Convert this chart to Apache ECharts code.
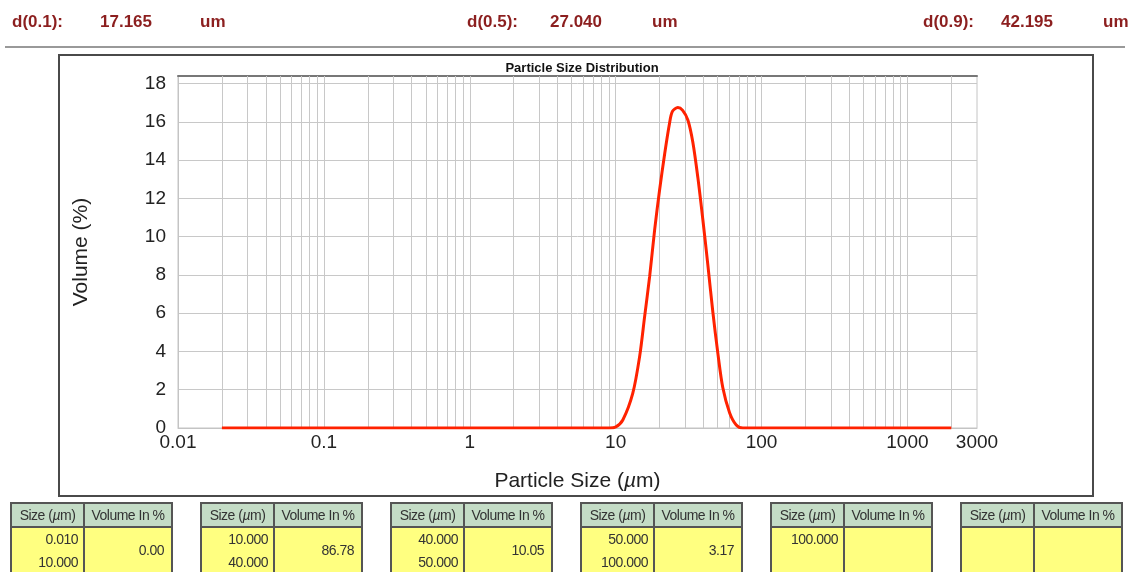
<!DOCTYPE html>
<html>
<head>
<meta charset="utf-8">
<script src="https://cdn.jsdelivr.net/npm/echarts@6/dist/echarts.min.js"></script>
<style>
  html, body { margin: 0; padding: 0; background: #fff; width: 1129px; height: 572px; overflow: hidden; font-family: "Liberation Sans", Arial, sans-serif; }
  #chart { position: absolute; left: 0; top: 0; width: 1129px; height: 572px; }
  .hd { position: absolute; top: 12px; font-size: 17px; font-weight: bold; color: #8c1f1f; white-space: nowrap; line-height: 20px; }
  #sep { position: absolute; left: 5px; top: 46px; width: 1120px; height: 0; border-top: 2px solid #999; }
  #box { position: absolute; left: 58px; top: 54px; width: 1032px; height: 439px; border: 2px solid #4a4a4a; }
  .tbl { position: absolute; top: 502px; border-collapse: collapse; font-size: 14px; color: #333; letter-spacing: -0.5px; }
  .tbl td { border: 2px solid #555; padding: 0; }
  .tbl .h { background: #c4dcc6; height: 22px; text-align: center; vertical-align: middle; }
  .tbl .b { background: #ffff80; height: 50px; vertical-align: top; }
  .sz { text-align: right; padding-right: 5px !important; line-height: 23px; padding-top: 0px !important; }
  .vol { text-align: right; padding-right: 7px !important; vertical-align: top !important; padding-top: 14px !important; }
</style>
</head>
<body>
<div id="chart"></div>
<div id="hdr"></div>
<div id="sep"></div>
<div id="box"></div>
<div id="tables"></div>
<script>
// ---- data ----
const dLabels = ['d(0.1):', 'd(0.5):', 'd(0.9):'];
const dValues = ['17.165', '27.040', '42.195'];
const dUnit = 'um';

const sizes   = [0.02, 9.1, 10.0, 11.2, 13.1, 14.6, 15.8, 17.1, 18.5, 20.0, 21.7, 23.4, 24.5, 26.7, 28.8, 31.3, 33.8, 36.6, 39.6, 42.9, 46.4, 50.2, 54.3, 60.4, 67.1, 74.5, 2000];
const volumes = [0,    0,   0.05, 0.42, 1.81, 3.73, 5.82, 7.91, 10.34, 12.43, 14.35, 15.92, 16.55, 16.75, 16.6, 16.09, 14.95, 13.1, 10.9, 8.5, 6.05, 3.9, 2.1, 0.8, 0.16, 0,   0];

const xTickLabels = ['0.01', '0.1', '1', '10', '100', '1000', '3000'];
const gridValues = [];
[0.01, 0.1, 1, 10, 100, 1000].forEach(function (d) {
  for (let k = 1; k <= 9; k++) { const v = +(d * k).toPrecision(3); if (v > 0.01 && v < 3000) gridValues.push(v); }
});

const tableRanges = [['0.010', '10.000'], ['10.000', '40.000'], ['40.000', '50.000'], ['50.000', '100.000'], ['100.000', ''], ['', '']];
const tableVolumes = ['0.00', '86.78', '10.05', '3.17', '', ''];

// ---- header ----
const hdrPos = [[12, 100, 200], [467, 550, 652], [923, 1001, 1103]];
let hh = '';
for (let i = 0; i < 3; i++) {
  hh += '<div class="hd" style="left:' + hdrPos[i][0] + 'px">' + dLabels[i] + '</div>';
  hh += '<div class="hd" style="left:' + hdrPos[i][1] + 'px">' + dValues[i] + '</div>';
  hh += '<div class="hd" style="left:' + hdrPos[i][2] + 'px">' + dUnit + '</div>';
}
document.getElementById('hdr').innerHTML = hh;

// ---- tables ----
const tblLeft = [10, 200, 390, 580, 770, 960];
let th = '';
for (let i = 0; i < 6; i++) {
  th += '<table class="tbl" style="left:' + tblLeft[i] + 'px">' +
    '<tr><td class="h" style="width:71px">Size (<i>µ</i>m)</td><td class="h" style="width:86px">Volume In %</td></tr>' +
    '<tr><td class="b sz">' + tableRanges[i][0] + '<br>' + tableRanges[i][1] + '</td><td class="b vol">' + tableVolumes[i] + '</td></tr>' +
    '</table>';
}
document.getElementById('tables').innerHTML = th;

// ---- chart ----
const chart = echarts.init(document.getElementById('chart'), null, { renderer: 'canvas' });
const font = '"Liberation Sans", Arial, sans-serif';
chart.setOption({
  animation: false,
  title: {
    text: 'Particle Size Distribution', left: 577, top: 57, textAlign: 'center',
    textStyle: { fontSize: 13, fontWeight: 'bold', color: '#111', fontFamily: font }
  },
  grid: { left: 178, top: 76, width: 799, height: 352, show: true, borderColor: '#c4c4c4', borderWidth: 1 },
  xAxis: [{
    type: 'log', logBase: 10, min: 0.01, max: 3000,
    name: 'Particle Size ({i|µ}m)', nameLocation: 'middle', nameGap: 43,
    nameTextStyle: { fontSize: 21, color: '#222', fontFamily: font,
      rich: { i: { fontSize: 21, fontStyle: 'italic', color: '#222', fontFamily: font } } },
    axisLine: { show: true, lineStyle: { color: '#c4c4c4', width: 1 } },
    axisTick: { show: false },
    splitLine: { show: false },
    axisLabel: {
      margin: 5, fontSize: 19, color: '#222', fontFamily: font,
      formatter: function (v) {
        const lv = Math.log10(v);
        for (const t of xTickLabels) { if (Math.abs(Math.log10(+t) - lv) < 1e-6) return t; }
        return '';
      }
    }
  }, {
    type: 'log', logBase: 10, min: 0.01, max: 3000, position: 'top',
    axisLine: { show: true, lineStyle: { color: '#777', width: 2 } },
    axisTick: { show: false }, axisLabel: { show: false }, splitLine: { show: false }
  }],
  yAxis: {
    type: 'value', min: 0, max: 18.4, interval: 2,
    name: 'Volume (%)', nameLocation: 'middle', nameGap: 86,
    nameTextStyle: { fontSize: 21, color: '#222', fontFamily: font },
    axisLine: { show: true, lineStyle: { color: '#c4c4c4', width: 1 } },
    axisTick: { show: false },
    splitLine: { show: true, lineStyle: { color: '#c8c8c8', width: 1 } },
    axisLabel: {
      margin: 12, fontSize: 19, color: '#222', fontFamily: font,
      formatter: function (v) { return (Math.abs(v / 2 - Math.round(v / 2)) < 1e-6) ? String(Math.round(v)) : ''; }
    }
  },
  series: [{
    type: 'line', data: sizes.map(function (s, i) { return [s, volumes[i]]; }),
    smooth: 0.3, showSymbol: false, symbol: 'none',
    lineStyle: { color: '#ff2200', width: 3 },
    markLine: {
      silent: true, symbol: 'none', label: { show: false }, animation: false,
      lineStyle: { color: '#c8c8c8', width: 1, type: 'solid' },
      data: gridValues.map(function (v) { return { xAxis: v }; })
    },
    z: 5
  }]
});
</script>
</body>
</html>
